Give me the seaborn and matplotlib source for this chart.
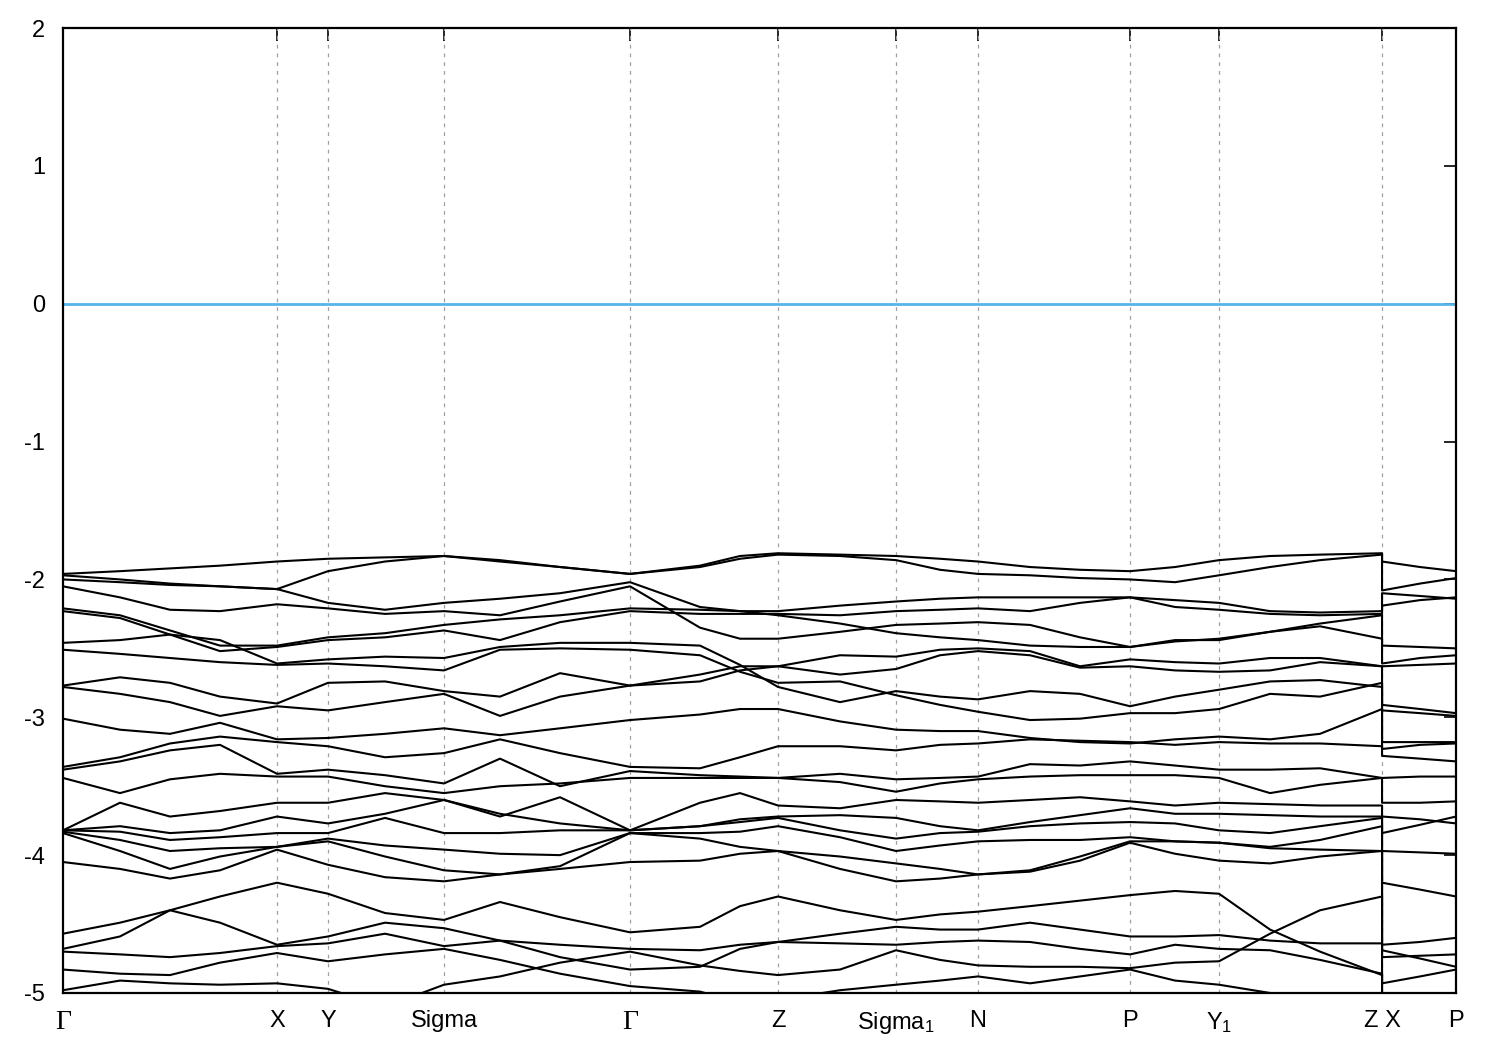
import matplotlib
matplotlib.use('Agg')  # no display
import matplotlib.pyplot as plt
import seaborn as sns
import numpy as np
import pandas as pd

# k-path sample positions (Z and X share 1.319: the path jumps there)
k_points = [0.000, 0.057, 0.107, 0.157, 0.214, 0.265, 0.322, 0.381, 0.437, 0.497, 0.567,
            0.637, 0.677, 0.715, 0.777, 0.833, 0.877, 0.915, 0.967, 1.017, 1.067, 1.112,
            1.156, 1.207, 1.257, 1.319, 1.319, 1.357, 1.393]

tick_pos = [0.000, 0.214, 0.265, 0.381, 0.567, 0.715, 0.833, 0.915, 1.067, 1.156, 1.319, 1.393]
tick_labels = ['Γ', 'X', 'Y', 'Sigma', 'Γ', 'Z', 'Sigma$_1$', 'N', 'P', 'Y$_1$', 'Z X', 'P']

fermi_level = 0.0

# band energies (eV) at each k point
band_01 = [-1.96, -1.94, -1.92, -1.90, -1.87, -1.85, -1.84, -1.83, -1.86, -1.91, -1.96, -1.90, -1.83, -1.81, -1.82,
           -1.83, -1.85, -1.87, -1.91, -1.93, -1.94, -1.91, -1.86, -1.83, -1.82, -1.81, -1.87, -1.91, -1.94]
band_02 = [-1.97, -2.00, -2.03, -2.05, -2.07, -1.94, -1.87, -1.83, -1.87, -1.91, -1.96, -1.91, -1.85, -1.82, -1.83,
           -1.86, -1.93, -1.96, -1.97, -1.99, -2.00, -2.02, -1.97, -1.91, -1.86, -1.82, -2.08, -2.03, -1.99]
band_03 = [-2.00, -2.02, -2.04, -2.05, -2.07, -2.17, -2.22, -2.17, -2.14, -2.10, -2.02, -2.20, -2.23, -2.26, -2.32,
           -2.39, -2.42, -2.44, -2.48, -2.49, -2.49, -2.45, -2.43, -2.38, -2.32, -2.26, -2.48, -2.49, -2.50]
band_04 = [-2.05, -2.13, -2.22, -2.23, -2.18, -2.21, -2.25, -2.23, -2.26, -2.16, -2.05, -2.35, -2.43, -2.43, -2.38,
           -2.33, -2.32, -2.31, -2.33, -2.42, -2.49, -2.44, -2.44, -2.38, -2.34, -2.43, -2.61, -2.57, -2.55]
band_05 = [-2.21, -2.26, -2.37, -2.48, -2.48, -2.42, -2.39, -2.33, -2.29, -2.26, -2.21, -2.22, -2.23, -2.23, -2.19,
           -2.16, -2.14, -2.13, -2.13, -2.13, -2.13, -2.15, -2.17, -2.23, -2.24, -2.23, -2.10, -2.12, -2.14]
band_06 = [-2.23, -2.28, -2.40, -2.52, -2.49, -2.44, -2.42, -2.37, -2.44, -2.31, -2.23, -2.25, -2.25, -2.25, -2.26,
           -2.23, -2.22, -2.21, -2.23, -2.17, -2.13, -2.20, -2.22, -2.25, -2.26, -2.25, -2.19, -2.15, -2.13]
band_07 = [-2.46, -2.44, -2.40, -2.44, -2.61, -2.58, -2.56, -2.57, -2.49, -2.46, -2.46, -2.48, -2.62, -2.78, -2.89,
           -2.81, -2.85, -2.87, -2.81, -2.83, -2.92, -2.85, -2.80, -2.74, -2.73, -2.78, -3.18, -3.18, -3.18]
band_08 = [-2.51, -2.54, -2.57, -2.60, -2.62, -2.61, -2.63, -2.66, -2.51, -2.50, -2.51, -2.55, -2.67, -2.75, -2.74,
           -2.84, -2.91, -2.96, -3.02, -3.01, -2.97, -2.97, -2.94, -2.83, -2.85, -2.75, -2.95, -2.97, -2.99]
band_09 = [-2.77, -2.71, -2.75, -2.85, -2.90, -2.75, -2.74, -2.81, -2.85, -2.68, -2.77, -2.74, -2.66, -2.63, -2.55,
           -2.56, -2.51, -2.50, -2.52, -2.63, -2.58, -2.60, -2.61, -2.57, -2.57, -2.63, -2.63, -2.62, -2.61]
band_10 = [-2.78, -2.83, -2.89, -2.99, -2.92, -2.95, -2.89, -2.83, -2.99, -2.85, -2.77, -2.69, -2.63, -2.63, -2.69,
           -2.65, -2.55, -2.52, -2.55, -2.64, -2.63, -2.66, -2.67, -2.66, -2.60, -2.63, -2.91, -2.94, -2.97]
band_11 = [-3.01, -3.09, -3.12, -3.04, -3.16, -3.15, -3.12, -3.08, -3.13, -3.08, -3.02, -2.98, -2.94, -2.94, -3.03,
           -3.09, -3.10, -3.10, -3.15, -3.18, -3.19, -3.16, -3.14, -3.16, -3.12, -2.94, -3.23, -3.20, -3.19]
band_12 = [-3.36, -3.29, -3.19, -3.14, -3.18, -3.21, -3.29, -3.26, -3.16, -3.26, -3.36, -3.37, -3.29, -3.21, -3.21,
           -3.24, -3.20, -3.19, -3.16, -3.17, -3.18, -3.20, -3.18, -3.19, -3.19, -3.21, -3.28, -3.30, -3.32]
band_13 = [-3.38, -3.32, -3.24, -3.20, -3.41, -3.38, -3.42, -3.48, -3.30, -3.50, -3.39, -3.42, -3.43, -3.44, -3.41,
           -3.45, -3.44, -3.43, -3.34, -3.35, -3.32, -3.35, -3.38, -3.38, -3.37, -3.44, -3.44, -3.43, -3.43]
band_14 = [-3.44, -3.55, -3.45, -3.41, -3.43, -3.43, -3.50, -3.55, -3.50, -3.48, -3.44, -3.44, -3.44, -3.44, -3.47,
           -3.54, -3.48, -3.45, -3.43, -3.42, -3.42, -3.42, -3.44, -3.55, -3.49, -3.44, -3.62, -3.62, -3.61]
band_15 = [-3.82, -3.62, -3.72, -3.68, -3.62, -3.62, -3.55, -3.60, -3.72, -3.58, -3.82, -3.62, -3.55, -3.64, -3.66,
           -3.60, -3.61, -3.62, -3.60, -3.58, -3.61, -3.64, -3.62, -3.63, -3.64, -3.64, -3.72, -3.74, -3.77]
band_16 = [-3.82, -3.79, -3.84, -3.82, -3.72, -3.77, -3.70, -3.60, -3.70, -3.77, -3.82, -3.79, -3.74, -3.72, -3.71,
           -3.73, -3.79, -3.82, -3.76, -3.71, -3.66, -3.70, -3.70, -3.71, -3.72, -3.72, -3.84, -3.78, -3.72]
band_17 = [-3.82, -3.83, -3.89, -3.87, -3.84, -3.84, -3.73, -3.84, -3.84, -3.82, -3.82, -3.79, -3.76, -3.73, -3.82,
           -3.88, -3.84, -3.83, -3.79, -3.77, -3.76, -3.77, -3.82, -3.84, -3.79, -3.73, -3.97, -3.98, -3.99]
band_18 = [-3.83, -3.89, -3.97, -3.95, -3.94, -3.88, -3.93, -3.96, -3.99, -4.00, -3.84, -3.84, -3.83, -3.79, -3.87,
           -3.97, -3.93, -3.90, -3.89, -3.89, -3.87, -3.90, -3.91, -3.94, -3.89, -3.79, -4.20, -4.25, -4.30]
band_19 = [-3.84, -3.97, -4.10, -4.01, -3.94, -3.90, -4.01, -4.11, -4.14, -4.08, -3.84, -3.88, -3.94, -3.97, -4.10,
           -4.19, -4.17, -4.14, -4.11, -4.01, -3.90, -3.90, -3.91, -3.95, -3.96, -3.97, -4.65, -4.63, -4.60]
band_20 = [-4.05, -4.10, -4.17, -4.11, -3.96, -4.07, -4.16, -4.19, -4.14, -4.10, -4.05, -4.04, -3.99, -3.97, -4.01,
           -4.06, -4.10, -4.14, -4.12, -4.04, -3.91, -3.99, -4.04, -4.06, -4.01, -3.97, -4.69, -4.75, -4.81]
band_21 = [-4.57, -4.49, -4.40, -4.30, -4.20, -4.28, -4.42, -4.47, -4.34, -4.45, -4.56, -4.52, -4.37, -4.30, -4.40,
           -4.47, -4.43, -4.41, -4.37, -4.33, -4.29, -4.26, -4.28, -4.54, -4.70, -4.87, -5.10, -5.07, -5.07]
band_22 = [-4.68, -4.59, -4.40, -4.49, -4.65, -4.59, -4.49, -4.53, -4.62, -4.74, -4.83, -4.81, -4.68, -4.63, -4.57,
           -4.52, -4.54, -4.54, -4.49, -4.54, -4.59, -4.59, -4.58, -4.62, -4.64, -4.64, -4.93, -4.88, -4.83]
band_23 = [-4.70, -4.72, -4.74, -4.71, -4.66, -4.64, -4.57, -4.66, -4.62, -4.65, -4.68, -4.69, -4.65, -4.63, -4.64,
           -4.65, -4.63, -4.62, -4.63, -4.68, -4.72, -4.65, -4.68, -4.69, -4.76, -4.86, -5.03, -5.05, -5.05]
band_24 = [-4.83, -4.86, -4.87, -4.78, -4.71, -4.77, -4.72, -4.68, -4.76, -4.86, -4.95, -4.99, -5.07, -5.05, -4.98,
           -4.94, -4.91, -4.88, -4.93, -4.88, -4.83, -4.91, -4.94, -5.00, -5.05, -5.05, -5.15, -5.12, -5.10]
band_25 = [-4.98, -4.91, -4.93, -4.94, -4.93, -4.97, -5.10, -4.94, -4.88, -4.78, -4.70, -4.80, -4.84, -4.87, -4.83,
           -4.69, -4.76, -4.80, -4.81, -4.81, -4.82, -4.78, -4.77, -4.57, -4.40, -4.30, -4.74, -4.73, -4.72]

bands = [band_01, band_02, band_03, band_04, band_05, band_06, band_07, band_08, band_09, band_10,
         band_11, band_12, band_13, band_14, band_15, band_16, band_17, band_18, band_19, band_20,
         band_21, band_22, band_23, band_24, band_25]

# long table, one row per (band, k) keeping path order
rows = []
for b, energies in enumerate(bands):
    for i, (k, e) in enumerate(zip(k_points, energies)):
        rows.append({'band': b, 'step': i, 'k': k, 'E': e})
df = pd.DataFrame(rows)

sns.set_theme(style='white')
plt.rcParams['font.family'] = ['Liberation Sans', 'DejaVu Sans']
plt.rcParams['mathtext.fontset'] = 'custom'
plt.rcParams['mathtext.rm'] = 'Liberation Sans'
plt.rcParams['mathtext.it'] = 'Liberation Sans'
plt.rcParams['axes.unicode_minus'] = False

fig = plt.figure(figsize=(15, 10.5), dpi=100)
ax = fig.add_axes([0.042, 0.0543, 0.9287, 0.919])

# dotted grid at the inner high-symmetry points
for x in tick_pos[1:-1]:
    ax.axvline(x, color='#a0a0a0', lw=0.9, ls=(0, (3, 4)), zorder=1)

ax.axhline(fermi_level, color='#56b4e9', lw=2, zorder=2)

sns.lineplot(data=df, x='k', y='E', units='band', estimator=None, sort=False,
             color='black', lw=1.5, ax=ax, legend=False, zorder=3)

ax.set_xlim(tick_pos[0], tick_pos[-1])
ax.set_ylim(-5, 2)
ax.set_xticks(tick_pos)
ax.set_xticklabels(tick_labels)
ax.set_yticks(np.arange(-5, 3, 1))
ax.set_xlabel('')
ax.set_ylabel('')

ax.tick_params(axis='both', direction='in', length=9, width=1.2, color='black',
               top=True, right=True, labelsize=17, labelcolor='black')
ax.tick_params(axis='x', pad=12)
ax.tick_params(axis='y', pad=13)

for lbl in ax.get_xticklabels():
    if lbl.get_text() == 'Γ':
        lbl.set_fontfamily('Liberation Serif')
        lbl.set_fontsize(20)

for s in ax.spines.values():
    s.set_color('black')
    s.set_linewidth(1.6)

fig.savefig('out.png', dpi=100)
plt.close(fig)
